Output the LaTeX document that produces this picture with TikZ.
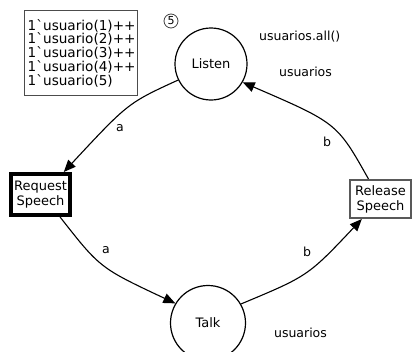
\documentclass[tikz,border=0pt]{standalone}
\usepackage{fontspec}
\setmainfont{DejaVu Sans}
\newfontfamily\codefont{DejaVu Sans}
\usetikzlibrary{arrows.meta}
\begin{document}
\begin{tikzpicture}[x=1pt,y=-1pt,
  lbl/.style={font=\fontsize{12.5}{15}\selectfont, inner sep=0pt},
  place/.style={circle, draw=black, line width=1.2pt, minimum size=72pt, inner sep=0pt, font=\fontsize{13}{15}\selectfont},
  trans/.style={rectangle, draw, align=center, inner sep=0pt, font=\fontsize{13}{15}\selectfont},
  arc/.style={draw=black, line width=1.1pt, -{Triangle[length=12pt,width=10pt]}},
  tokbox/.style={draw=black!70, line width=1.4pt, anchor=north west, align=left, inner xsep=3pt,
    text width=107pt, minimum height=85pt, font=\codefont\fontsize{13.6}{13.75}\selectfont}
]
\useasboundingbox (0,0) rectangle (415,351);
\clip (0,0) rectangle (415,351);
\fill[white] (0,0) rectangle (415,351);

\node[place] (listen) at (211,64) {Listen};
\node[place, minimum size=75pt] (talk) at (208,323) {Talk};
\node[trans, draw=black, line width=4pt, minimum width=59pt, minimum height=41pt] (req) at (40.5,194.5) {Request\\Speech};
\node[trans, draw=black!65, line width=1.6pt, minimum width=61.5pt, minimum height=38.5pt] (rel) at (380.5,199) {Release\\Speech};

\node[tokbox] (tokens) at (24,10) {1`usuario(1)++\\1`usuario(2)++\\1`usuario(3)++\\1`usuario(4)++\\1`usuario(5)};
\node[circle, draw=black!75, line width=0.8pt, minimum size=14pt, inner sep=0pt, font=\fontsize{11}{12}\selectfont] (count) at (171,21) {5};

\node[lbl, anchor=west] (init) at (259,37) {usuarios.all()};
\node[lbl] (typeL) at (305.5,72) {usuarios};
\node[lbl] (typeT) at (300.5,333) {usuarios};

\path[arc] (listen.206) .. controls (128,103) .. (req.44);
\path[arc] (req.-49) .. controls (100,268) .. (talk.149);
\path[arc] (talk.30) .. controls (308,276) .. (rel.227);
\path[arc] (rel.121) .. controls (337,123) .. (listen.-30);

\node[lbl] (a1) at (120,128) {a};
\node[lbl] (a2) at (106,250) {a};
\node[lbl] (b1) at (307,252) {b};
\node[lbl] (b2) at (327,142) {b};
\end{tikzpicture}
\end{document}
